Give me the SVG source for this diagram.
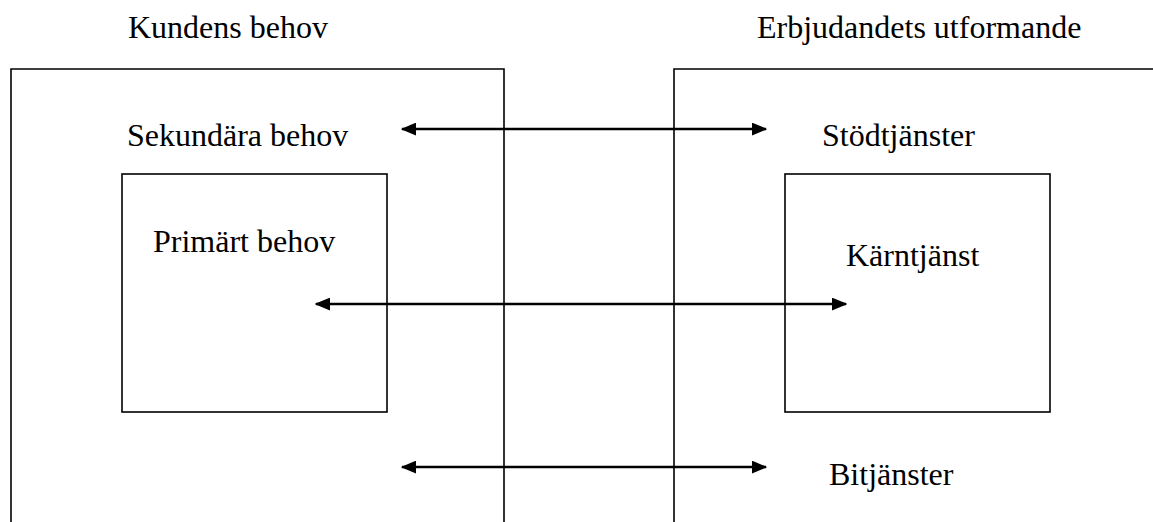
<svg xmlns="http://www.w3.org/2000/svg" width="1153" height="522" viewBox="0 0 1153 522">
<style>
  .box{fill:none;stroke:#000;stroke-width:1.6}
  .lbl{font-family:"Liberation Serif","Times New Roman",serif;font-size:32px;fill:#000}
  .conn{stroke:#000;stroke-width:2.6;fill:none}
</style>
<defs>
  <marker id="ah" viewBox="0 0 12 10" refX="11" refY="5" markerWidth="6" markerHeight="5" markerUnits="strokeWidth" orient="auto-start-reverse">
    <path d="M0,0 L12,5 L0,10 z" fill="#000"/>
  </marker>
</defs>
<rect width="1153" height="522" fill="#fff"/>
<g id="kundens-behov">
  <path class="box" d="M11,530 V69 H504 V530"/>
  <text class="lbl" x="128" y="38" font-family="Liberation Serif, serif">Kundens behov</text>
  <text class="lbl" x="127" y="146" font-family="Liberation Serif, serif">Sekundära behov</text>
</g>
<g id="primart-behov">
  <rect class="box" x="122" y="174" width="265" height="238"/>
  <text class="lbl" x="153" y="252" font-family="Liberation Serif, serif">Primärt behov</text>
</g>
<g id="erbjudandets-utformande">
  <path class="box" d="M674,530 V69 H1160"/>
  <text class="lbl" x="757" y="38" font-family="Liberation Serif, serif">Erbjudandets utformande</text>
  <text class="lbl" x="822" y="146" font-family="Liberation Serif, serif">Stödtjänster</text>
  <text class="lbl" x="829" y="485" font-family="Liberation Serif, serif">Bitjänster</text>
</g>
<g id="karntjanst">
  <rect class="box" x="785" y="174" width="265" height="238"/>
  <text class="lbl" x="846" y="266" font-family="Liberation Serif, serif">Kärntjänst</text>
</g>
<g id="connectors">
  <line class="conn" x1="402" y1="129" x2="766" y2="129" marker-start="url(#ah)" marker-end="url(#ah)"/>
  <line class="conn" x1="316" y1="304" x2="846" y2="304" marker-start="url(#ah)" marker-end="url(#ah)"/>
  <line class="conn" x1="402" y1="467" x2="766" y2="467" marker-start="url(#ah)" marker-end="url(#ah)"/>
</g>
</svg>
